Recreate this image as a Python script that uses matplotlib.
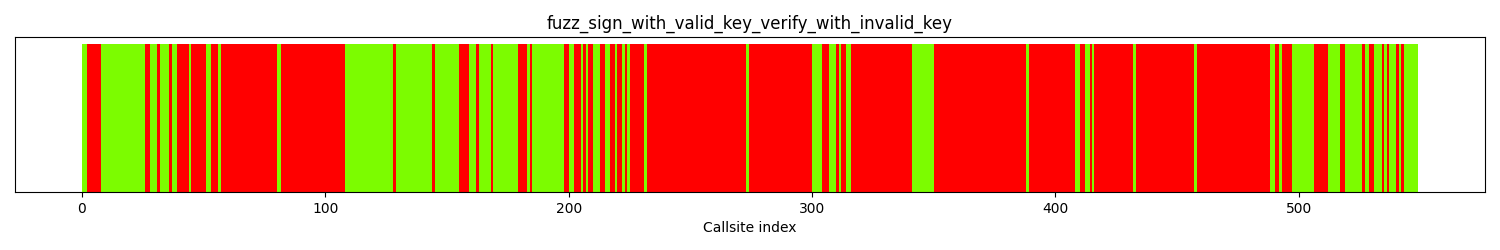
import matplotlib
matplotlib.use("Agg")
import matplotlib.pyplot as plt

# Callsite coverage bitmap, stored as runs: index where a run starts and whether it was hit
title = "fuzz_sign_with_valid_key_verify_with_invalid_key"
n_callsites = 549
run_starts = [0, 2, 8, 26, 28, 31, 32, 36, 37, 39, 44, 45, 51, 53, 56, 57, 80, 82,
              108, 128, 129, 144, 145, 155, 159, 162, 163, 168, 169, 179, 183, 184,
              185, 198, 200, 202, 205, 206, 207, 208, 210, 213, 215, 217, 219, 220,
              222, 223, 224, 225, 231, 232, 273, 274, 300, 304, 307, 310, 311, 312,
              314, 316, 341, 350, 388, 389, 408, 410, 412, 414, 415, 416, 432, 433,
              457, 458, 488, 490, 492, 493, 497, 506, 512, 517, 519, 526, 527, 529,
              531, 534, 535, 536, 537, 540, 541, 542, 543]
# first run is hit, then they alternate
run_hit = [i % 2 == 0 for i in range(len(run_starts))]

# expand runs into one colour per callsite
colors = []
bounds = run_starts + [n_callsites]
for k in range(len(run_starts)):
    c = "#7CFC00" if run_hit[k] else "red"
    colors += [c] * (bounds[k + 1] - bounds[k])

fig, ax = plt.subplots(figsize=(15, 2.5), dpi=100)
ax.bar(range(n_callsites), [1] * n_callsites, width=1, align="edge",
       color=colors, linewidth=0)
ax.set_title(title)
ax.set_xlabel("Callsite index")
ax.set_yticks([])
fig.subplots_adjust(left=0.01, right=0.99, bottom=0.232, top=0.852)
fig.savefig("out.png")
